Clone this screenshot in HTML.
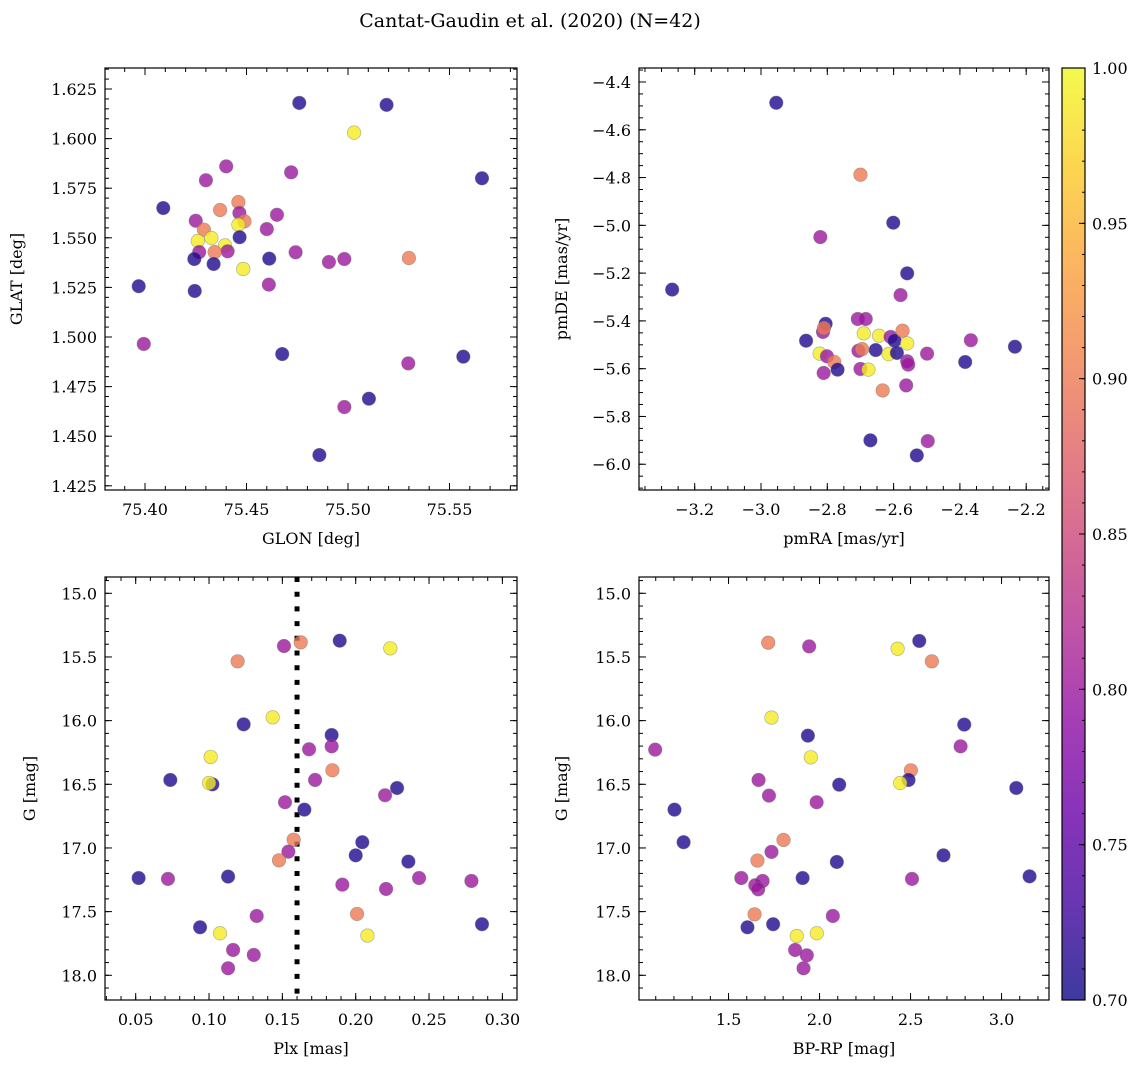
<!DOCTYPE html>
<html><head><meta charset="utf-8"><style>
html,body{margin:0;padding:0;background:#fff;}
svg{display:block;font-family:"DejaVu Serif","Liberation Serif",serif;}
</style></head><body>
<svg id="fig" width="1148" height="1067" viewBox="0 0 1148 1067" xmlns="http://www.w3.org/2000/svg">
<text x="530" y="27" font-size="19" text-anchor="middle">Cantat-Gaudin et al. (2020) (N=42)</text>
</svg>
<script>
// ---- data: top-left (GLON vs GLAT) ----
const glonA = [75.476,75.519,75.503,75.566,75.440,75.430,75.472,75.409,75.446,75.437,75.4465,75.465,75.425,75.449,75.446,75.460,75.429,75.4327,75.426,75.4466,75.4394,75.4407,75.4267,75.4343,75.4742,75.4243,75.4612,75.4338,75.4484,75.4906,75.4982,75.530,75.3969,75.4245,75.461,75.3994,75.4676,75.5568,75.5297,75.5103,75.4982,75.4859];
const glatA = [1.618,1.617,1.603,1.580,1.586,1.579,1.583,1.565,1.568,1.564,1.5625,1.5616,1.5586,1.5583,1.5566,1.5544,1.5541,1.5499,1.5484,1.5503,1.5462,1.5432,1.5428,1.5428,1.5427,1.5393,1.5395,1.5368,1.5343,1.5378,1.5393,1.5398,1.5256,1.5232,1.5264,1.4965,1.4914,1.4901,1.4867,1.4689,1.4647,1.4405];
const probA = [0.71,0.71,0.99,0.71,0.80,0.80,0.80,0.71,0.90,0.90,0.80,0.80,0.80,0.90,0.99,0.80,0.90,0.99,0.99,0.71,0.99,0.80,0.80,0.90,0.80,0.71,0.71,0.71,0.99,0.80,0.80,0.90,0.71,0.71,0.80,0.80,0.71,0.71,0.80,0.71,0.80,0.71];
// ---- data: top-right (pmRA vs pmDE) ----
const pmraB = [-2.954,-2.700,-2.601,-2.821,-2.559,-3.268,-2.579,-2.805,-2.708,-2.684,-2.813,-2.81,-2.864,-2.690,-2.644,-2.609,-2.597,-2.573,-2.559,-2.367,-2.234,-2.654,-2.706,-2.695,-2.823,-2.801,-2.615,-2.590,-2.499,-2.779,-2.559,-2.556,-2.384,-2.769,-2.700,-2.676,-2.811,-2.562,-2.633,-2.670,-2.497,-2.530];
const pmdeB = [-4.487,-4.788,-4.989,-5.049,-5.201,-5.269,-5.292,-5.412,-5.392,-5.392,-5.446,-5.43,-5.483,-5.452,-5.462,-5.467,-5.483,-5.441,-5.494,-5.481,-5.508,-5.522,-5.525,-5.518,-5.537,-5.548,-5.539,-5.534,-5.537,-5.572,-5.569,-5.583,-5.572,-5.604,-5.601,-5.604,-5.618,-5.670,-5.691,-5.900,-5.903,-5.963];
const probB = [0.71,0.90,0.71,0.80,0.71,0.71,0.80,0.71,0.80,0.80,0.80,0.90,0.71,0.99,0.99,0.80,0.71,0.90,0.99,0.80,0.71,0.71,0.80,0.90,0.99,0.80,0.99,0.71,0.80,0.90,0.80,0.80,0.71,0.71,0.80,0.99,0.80,0.80,0.90,0.71,0.80,0.71];
// ---- data: bottom-left (Plx vs G) ----
const plxC = [0.1625,0.1511,0.1891,0.2236,0.1195,0.1434,0.1236,0.1836,0.1682,0.1836,0.1011,0.1841,0.0736,0.1723,0.1023,0.100,0.2282,0.220,0.1518,0.165,0.1577,0.2045,0.1541,0.200,0.1477,0.2359,0.052,0.072,0.113,0.2432,0.1909,0.2207,0.2789,0.1325,0.2009,0.0939,0.2861,0.1075,0.208,0.1164,0.1305,0.113];
const gC = [15.385,15.414,15.372,15.432,15.534,15.974,16.029,16.113,16.225,16.202,16.285,16.390,16.466,16.466,16.50,16.49,16.529,16.586,16.641,16.699,16.935,16.955,17.029,17.058,17.097,17.107,17.236,17.243,17.225,17.236,17.288,17.322,17.259,17.534,17.518,17.623,17.599,17.670,17.688,17.801,17.840,17.945];
const probC = [0.90,0.80,0.71,0.99,0.90,0.99,0.71,0.71,0.80,0.80,0.99,0.90,0.71,0.80,0.71,0.99,0.71,0.80,0.80,0.71,0.90,0.71,0.80,0.71,0.90,0.71,0.71,0.80,0.71,0.80,0.80,0.80,0.80,0.80,0.90,0.71,0.71,0.99,0.99,0.80,0.80,0.80];
const plxCut = [0.16];
// ---- data: bottom-right (BP-RP vs G) ----
const bprpD = [1.718,1.943,2.429,2.548,2.617,1.736,1.936,1.952,2.795,2.775,1.097,2.502,2.489,2.443,1.665,1.722,1.984,2.108,3.081,1.203,1.253,1.802,1.736,1.659,2.095,2.681,1.570,1.687,1.647,1.663,1.907,2.508,3.154,1.643,2.073,1.604,1.745,1.875,1.985,1.866,1.930,1.912];
const gD = [15.388,15.417,15.435,15.374,15.534,15.976,16.118,16.288,16.031,16.202,16.228,16.39,16.466,16.49,16.466,16.589,16.641,16.503,16.529,16.699,16.955,16.937,17.031,17.099,17.11,17.058,17.236,17.259,17.293,17.325,17.236,17.243,17.223,17.521,17.534,17.623,17.599,17.691,17.670,17.801,17.843,17.945];
const probD = [0.90,0.80,0.99,0.71,0.90,0.99,0.71,0.99,0.71,0.80,0.80,0.90,0.71,0.99,0.80,0.80,0.80,0.71,0.71,0.71,0.71,0.90,0.80,0.90,0.71,0.71,0.80,0.80,0.80,0.80,0.71,0.80,0.71,0.90,0.80,0.71,0.71,0.99,0.99,0.80,0.80,0.80];
// ---- colorbar ticks ----
const cbTicks = [0.70,0.75,0.80,0.85,0.90,0.95,1.00];

const NS = "http://www.w3.org/2000/svg";
const svg = document.getElementById('fig');
const plasma = [[13,8,135],[65,4,157],[106,0,168],[143,13,164],[177,42,144],[204,71,120],[225,100,98],[242,132,75],[252,166,54],[252,206,37],[240,249,33]];
function cmap(v){
  let t = Math.max(0, Math.min(1, (v-0.7)/0.3))*10;
  const i = Math.min(9, Math.floor(t)); const f = t-i;
  const a = plasma[i], b = plasma[i+1];
  return 'rgb(' + [0,1,2].map(k => Math.round(a[k]+(b[k]-a[k])*f)).join(',') + ')';
}
function mk(tag, attrs, parent){
  const e = document.createElementNS(NS, tag);
  for (const k in attrs) e.setAttribute(k, attrs[k]);
  (parent||svg).appendChild(e);
  return e;
}
function fmt(v, d){ const s = Math.abs(v).toFixed(d); return (v < -1e-9 ? '\u2212' : '') + s; }

function panel(cfg){
  const g = mk('g', {});
  
  
  const {L,T,R,B} = cfg;
  const sx = v => L + (v-cfg.x0)/(cfg.x1-cfg.x0)*(R-L);
  const sy = v => T + (v-cfg.ytop)/(cfg.ybot-cfg.ytop)*(B-T);
  const yLo = Math.min(cfg.ytop, cfg.ybot), yHi = Math.max(cfg.ytop, cfg.ybot);
  const tg = mk('g', {stroke:'#000','stroke-width':1}, g);
  
  
  function ticksX(step, len){
    const n0 = Math.ceil(cfg.x0/step - 1e-6), n1 = Math.floor(cfg.x1/step + 1e-6);
    for (let n=n0;n<=n1;n++){ const x = sx(n*step);
      mk('line',{x1:x,x2:x,y1:B,y2:B-len},tg); mk('line',{x1:x,x2:x,y1:T,y2:T+len},tg); }
  }
  function ticksY(step, len){
    const n0 = Math.ceil(yLo/step - 1e-6), n1 = Math.floor(yHi/step + 1e-6);
    for (let n=n0;n<=n1;n++){ const y = sy(n*step);
      mk('line',{x1:L,x2:L+len,y1:y,y2:y},tg); mk('line',{x1:R,x2:R-len,y1:y,y2:y},tg); }
  }
  ticksX(cfg.xmin, 4); ticksX(cfg.xmaj, 7); ticksY(cfg.ymin, 4); ticksY(cfg.ymaj, 7);
  const n0 = Math.ceil(cfg.x0/cfg.xmaj - 1e-6), n1 = Math.floor(cfg.x1/cfg.xmaj + 1e-6);
  for (let n=n0;n<=n1;n++){
    const v = n*cfg.xmaj;
    const t = mk('text',{x:sx(v),y:B+25,'font-size':16,'text-anchor':'middle'},g);
    
    
    t.textContent = fmt(v, cfg.xd);
  }
  const m0 = Math.ceil(yLo/cfg.ymaj - 1e-6), m1 = Math.floor(yHi/cfg.ymaj + 1e-6);
  for (let n=m0;n<=m1;n++){
    const v = n*cfg.ymaj;
    const t = mk('text',{x:L-8,y:sy(v)+6,'font-size':16,'text-anchor':'end'},g);
    
    
    t.textContent = fmt(v, cfg.yd);
  }
  const xl = mk('text',{x:(L+R)/2,y:B+54,'font-size':16,'text-anchor':'middle'},g);
  
  
  xl.textContent = cfg.xlabel;
  const yx = cfg.ylx, yy = (T+B)/2;
  const yl = mk('text',{x:yx,y:yy,'font-size':16,'text-anchor':'middle',transform:`rotate(-90 ${yx} ${yy})`},g);
  
  
  yl.textContent = cfg.ylabel;
  if (cfg.vline){
    cfg.vline.forEach(v => {
      const ln = mk('line',{x1:sx(v),x2:sx(v),y1:T,y2:B,stroke:'#000','stroke-width':5,'stroke-dasharray':'5 9.7'},g);
      
      
    });
  }
  const pg = mk('g', {}, g);
  
  
  cfg.xs.forEach((xv,i) => {
    const c = mk('circle',{cx:sx(xv),cy:sy(cfg.ys[i]),r:6.8,fill:cmap(cfg.cs[i]),'fill-opacity':0.8,stroke:'#777','stroke-opacity':0.6,'stroke-width':0.6},pg);
    
    
  });
  const fr = mk('rect',{x:L,y:T,width:R-L,height:B-T,fill:'none',stroke:'#000','stroke-width':1.2},g);
  
  
}

panel({name:'glon-glat-panel',L:105,T:68,R:517,B:490,x0:75.4+(105-145)/2030,x1:75.4+(517-145)/2030,ytop:1.625+(89-68)/1984,ybot:1.625-(490-89)/1984,
  xmaj:0.05,xmin:0.01,ymaj:0.025,ymin:0.005,xd:2,yd:3,xlabel:'GLON [deg]',ylabel:'GLAT [deg]',ylx:22,xs:glonA,ys:glatA,cs:probA});
panel({name:'pm-panel',L:639,T:68,R:1049,B:490,x0:-3.2+(639-694.7)/331.5,x1:-3.2+(1049-694.7)/331.5,ytop:-4.4+(82-68)/238.9,ybot:-4.4-(490-82)/238.9,
  xmaj:0.2,xmin:0.05,ymaj:0.2,ymin:0.05,xd:1,yd:1,xlabel:'pmRA [mas/yr]',ylabel:'pmDE [mas/yr]',ylx:567,xs:pmraB,ys:pmdeB,cs:probB});
panel({name:'plx-g-panel',L:105,T:577,R:517,B:1000,x0:0.05+(105-135.7)/1466.7,x1:0.05+(517-135.7)/1466.7,ytop:15-(593.3-577)/127.33,ybot:15+(1000-593.3)/127.33,
  xmaj:0.05,xmin:0.01,ymaj:0.5,ymin:0.1,xd:2,yd:1,xlabel:'Plx [mas]',ylabel:'G [mag]',ylx:35,xs:plxC,ys:gC,cs:probC,vline:plxCut});
panel({name:'cmd-panel',L:639,T:577,R:1049,B:1000,x0:1.008,x1:1.008+(1049-639)/182,ytop:15-(593.3-577)/127.33,ybot:15+(1000-593.3)/127.33,
  xmaj:0.5,xmin:0.1,ymaj:0.5,ymin:0.1,xd:1,yd:1,xlabel:'BP-RP [mag]',ylabel:'G [mag]',ylx:567,xs:bprpD,ys:gD,cs:probD});

(function(){
  const L=1062,R=1085,T=68,B=1000;
  const defs = mk('defs',{});
  const lg = mk('linearGradient',{id:'plasmaGrad',x1:0,y1:1,x2:0,y2:0},defs);
  plasma.forEach((c,i) => mk('stop',{offset:(i/10),'stop-color':`rgb(${c.join(',')})`},lg));
  const g = mk('g',{});
  
  
  mk('rect',{x:L,y:T,width:R-L,height:B-T,fill:'url(#plasmaGrad)','fill-opacity':0.8},g);
  const sy = v => B - (v-0.7)/0.3*(B-T);
  for (let n=70;n<=100;n++){ const y=sy(n/100); mk('line',{x1:R,x2:R-3,y1:y,y2:y,stroke:'#000'},g); }
  cbTicks.forEach(v => {
    const y = sy(v);
    mk('line',{x1:R,x2:R-6,y1:y,y2:y,stroke:'#000'},g);
    const t = mk('text',{x:R+7,y:y+6,'font-size':16},g);
    
    
    t.textContent = v.toFixed(2);
  });
  mk('rect',{x:L,y:T,width:R-L,height:B-T,fill:'none',stroke:'#000','stroke-width':1.2},g);
})();
</script>
</body></html>
